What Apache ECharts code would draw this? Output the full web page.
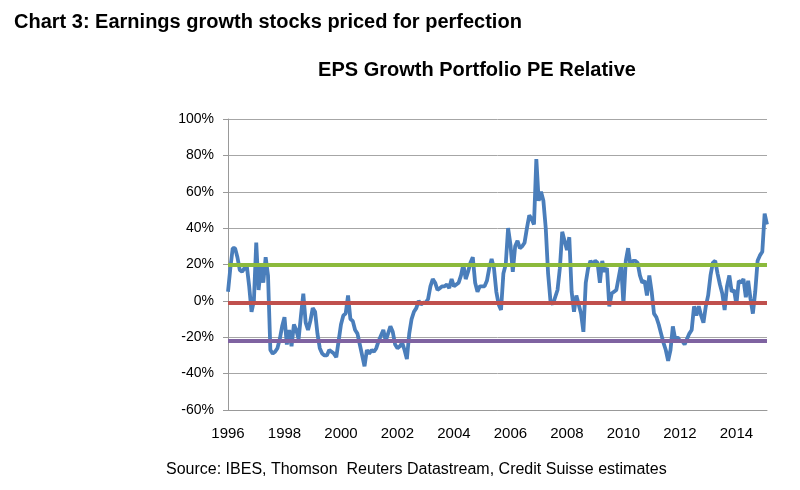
<!DOCTYPE html>
<html>
<head>
<meta charset="utf-8">
<script src="https://cdn.jsdelivr.net/npm/echarts@6/dist/echarts.min.js"></script>
<style>
html, body { margin: 0; padding: 0; background: #fff; }
#chart { width: 800px; height: 490px; }
</style>
</head>
<body>
<div id="chart"></div>
<script>
// monthly PE relative (%), Jan 1996 .. Feb 2015
var peRelative = [
	5, 18, 29, 29, 24, 17, 16, 18, 19, 8,
	-6, 0, 32, 6, 19, 10, 24, 14, -27, -29,
	-28, -26, -21, -14, -9, -24, -16, -25, -13, -16,
	-21, -8, 4, -12, -16, -11, -4, -6, -18, -26,
	-29, -30, -30, -27, -28, -29, -31, -22, -13, -8,
	-7, 3, -10, -11, -16, -18, -24, -30, -36, -27,
	-29, -27, -28, -26, -22, -19, -16, -22, -18, -14,
	-17, -24, -26, -25, -23, -27, -32, -18, -10, -6,
	-4, 0, -2, -1, -1, 1, 8, 12, 10, 6,
	7, 8, 8, 9, 7, 12, 8, 9, 10, 14,
	20, 12, 16, 21, 24, 10, 5, 8, 8, 8,
	11, 18, 23, 18, 5, -2, -5, 15, 20, 40,
	31, 16, 30, 33, 29, 30, 32, 40, 47, 45,
	42, 78, 55, 60, 55, 40, 15, 0, -2, 2,
	6, 18, 38, 33, 28, 35, 5, -6, 3, -2,
	-7, -17, 10, 18, 22, 20, 22, 21, 10, 22,
	16, 18, -3, 4, 5, 6, 13, 20, -2, 22,
	29, 19, 22, 22, 21, 14, 10, 11, 3, 14,
	5, -7, -9, -13, -18, -23, -27, -33, -27, -14,
	-21, -20, -22, -22, -24, -21, -18, -16, -3, -8,
	-3, -8, -12, -3, 3, 14, 21, 22, 15, 9,
	4, -5, 8, 14, 5, 6, -2, 11, 10, 12,
	2, 11, 1, -7, 5, 22, 25, 27, 48, 42
];

// reference levels
var upperBand = 20;
var average = -1;
var lowerBand = -22;

var startYear = 1996;
var months = [];
for (var i = 0; i < peRelative.length; i++) {
	var y = startYear + Math.floor(i / 12), m = (i % 12) + 1;
	months.push(y + "-" + (m < 10 ? "0" + m : m));
}

var chart = echarts.init(document.getElementById("chart"));
var option = {
	animation : false,
	textStyle : { fontFamily : "Liberation Sans, Arial, sans-serif" },
	title : [ {
		text : "Chart 3: Earnings growth stocks priced for perfection",
		left : 9,
		top : 7,
		textStyle : { fontSize : 20, fontWeight : "bold", color : "#000" }
	}, {
		text : "EPS Growth Portfolio PE Relative",
		left : 472,
		textAlign : "center",
		top : 55,
		textStyle : { fontSize : 20, fontWeight : "bold", color : "#000" }
	}, {
		text : "Source: IBES, Thomson  Reuters Datastream, Credit Suisse estimates",
		left : 161,
		top : 457,
		textStyle : { fontSize : 16, fontWeight : "normal", color : "#000" }
	} ],
	grid : {
		left : 228,
		right : 33,
		top : 119,
		bottom : 80
	},
	xAxis : {
		type : "category",
		data : months,
		boundaryGap : false,
		axisLine : { show : true, onZero : false, lineStyle : { color : "#999", width : 1 } },
		axisTick : { show : false },
		axisLabel : {
			interval : function(idx) { return idx % 24 === 0; },
			margin : 16,
			fontSize : 15,
			color : "#000",
			formatter : function(v) { return v.slice(0, 4); }
		},
		splitLine : { show : false }
	},
	yAxis : {
		type : "value",
		min : -60,
		max : 100,
		interval : 20,
		axisLine : { show : true, lineStyle : { color : "#999", width : 1 } },
		axisTick : { show : true, length : 5, lineStyle : { color : "#999" } },
		axisLabel : {
			formatter : "{value}%",
			fontSize : 14,
			margin : 14,
			color : "#000"
		},
		splitLine : { lineStyle : { color : "#a6a6a6", width : 1 } }
	},
	series : [ {
		name : "PE Relative",
		type : "line",
		data : peRelative,
		symbol : "none",
		lineStyle : { color : "#4a7ebb", width : 3.8 },
		markLine : {
			silent : true,
			symbol : [ "none", "none" ],
			label : { show : false },
			data : [ {
				yAxis : upperBand,
				lineStyle : { color : "#8cba3c", width : 4, type : "solid" }
			}, {
				yAxis : average,
				lineStyle : { color : "#c0504d", width : 4, type : "solid" }
			}, {
				yAxis : lowerBand,
				lineStyle : { color : "#7f63a1", width : 4, type : "solid" }
			} ]
		}
	} ]
};
chart.setOption(option);
</script>
</body>
</html>
